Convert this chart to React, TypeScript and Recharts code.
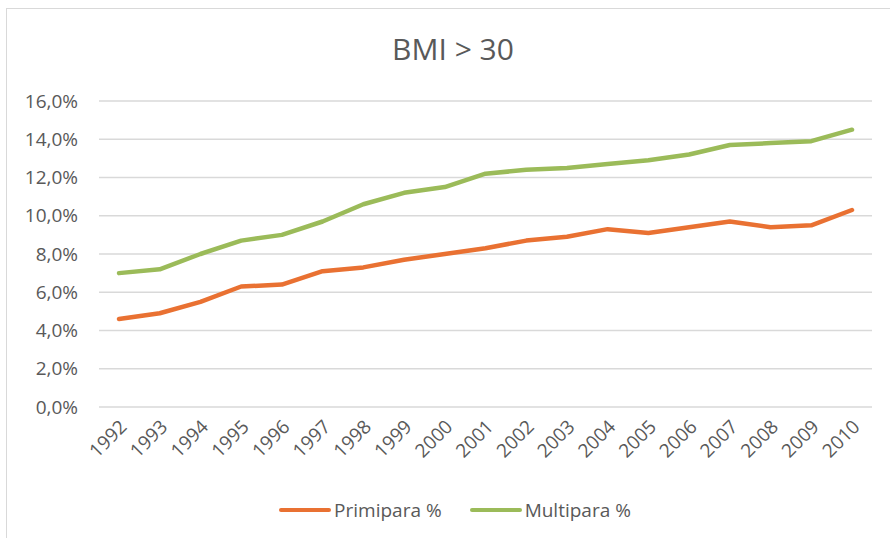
import React from 'react';
import { LineChart, Line, XAxis, YAxis, CartesianGrid, Legend } from 'recharts';

const years = ['1992','1993','1994','1995','1996','1997','1998','1999','2000','2001','2002','2003','2004','2005','2006','2007','2008','2009','2010'];
const primipara = [4.6, 4.9, 5.5, 6.3, 6.4, 7.1, 7.3, 7.7, 8.0, 8.3, 8.7, 8.9, 9.3, 9.1, 9.4, 9.7, 9.4, 9.5, 10.3];
const multipara = [7.0, 7.2, 8.0, 8.7, 9.0, 9.7, 10.6, 11.2, 11.5, 12.2, 12.4, 12.5, 12.7, 12.9, 13.2, 13.7, 13.8, 13.9, 14.5];
const yTicks = [0, 2, 4, 6, 8, 10, 12, 14, 16];
const seriesNames = ['Primipara %', 'Multipara %'];
const title = 'BMI > 30';

const data = years.map((y, i) => ({ year: y, p: primipara[i], m: multipara[i] }));

const FONT = '"Open Sans", sans-serif';
const TXT = '#595959';
const ORANGE = '#E97132';
const GREEN = '#9BBB59';

const XTick = (props: any) => {
  const { x, y, payload } = props;
  return (
    <g transform={`translate(${x + 9},${y + 21})`}>
      <text textAnchor="end" transform="rotate(-45)" fill={TXT} fontSize={19} fontFamily={FONT}>
        {payload.value}
      </text>
    </g>
  );
};

const LegendContent = () => (
  <div style={{ display: 'flex', justifyContent: 'center', alignItems: 'center', fontFamily: FONT, fontSize: 19, color: TXT, paddingLeft: 20 }}>
    {seriesNames.map((n, i) => (
      <div key={n} style={{ display: 'flex', alignItems: 'center', marginRight: i === 0 ? 28 : 0 }}>
        <div style={{ width: 52, height: 4, borderRadius: 2, background: i === 0 ? ORANGE : GREEN, marginRight: 3 }} />
        <span>{n}</span>
      </div>
    ))}
  </div>
);

export default function App() {
  return (
    <div style={{ position: 'absolute', left: 0, top: 0, width: 890, height: 538, overflow: 'hidden', background: '#fff' }}>
      <div style={{ position: 'absolute', left: 6, top: 8, width: 900, height: 560, border: '1.5px solid #d9d9d9', boxSizing: 'border-box' }} />
      <div style={{ position: 'absolute', left: 0, width: 906, top: 28, textAlign: 'center', fontFamily: FONT, fontSize: 30, color: TXT, lineHeight: '42px' }}>
        {title}
      </div>
      <div style={{ position: 'absolute', left: 0, top: 0 }}>
        <LineChart width={890} height={538} data={data} margin={{ top: 101, right: 18, left: 9, bottom: 71 }}>
          <CartesianGrid vertical={false} stroke="#d9d9d9" strokeWidth={1.5} />
          <XAxis
            dataKey="year"
            height={60}
            padding={{ left: 20, right: 20 }}
            axisLine={false}
            tickLine={false}
            tickSize={0}
            tickMargin={0}
            interval={0}
            tick={<XTick />}
          />
          <YAxis
            width={90}
            domain={[0, 16]}
            ticks={yTicks}
            axisLine={false}
            tickLine={false}
            tickSize={0}
            tickMargin={21}
            tickFormatter={(v: number) => v.toFixed(1).replace('.', ',') + '%'}
            tick={{ fill: TXT, fontSize: 19, fontFamily: FONT }}
          />
          <Legend verticalAlign="middle" align="center" layout="horizontal" wrapperStyle={{ left: 0, width: 890, top: 497 }} content={<LegendContent />} />
          <Line dataKey="p" name={seriesNames[0]} stroke={ORANGE} strokeWidth={4.5} dot={false} isAnimationActive={false} strokeLinejoin="round" strokeLinecap="round" />
          <Line dataKey="m" name={seriesNames[1]} stroke={GREEN} strokeWidth={4.5} dot={false} isAnimationActive={false} strokeLinejoin="round" strokeLinecap="round" />
        </LineChart>
      </div>
    </div>
  );
}
